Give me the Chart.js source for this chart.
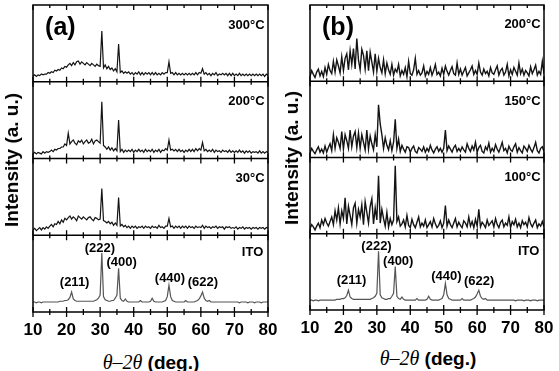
<!DOCTYPE html>
<html>
<head>
<meta charset="utf-8">
<script src="https://cdn.jsdelivr.net/npm/chart.js@4/dist/chart.umd.min.js"></script>
<style>
body{margin:0;background:#fff;}
#wrap{position:relative;width:559px;height:371px;font-family:"Liberation Sans",Arial,sans-serif;color:#000;}
canvas{position:absolute;top:0;}
.ytitle{position:absolute;font-weight:bold;font-size:19px;white-space:nowrap;transform:translate(-50%,-50%) rotate(-90deg);}
.xtitle{position:absolute;font-weight:bold;font-size:19px;white-space:nowrap;transform:translate(-50%,-50%);}
.xtitle i{font-family:"Liberation Serif",serif;font-weight:normal;font-size:20px;}
</style>
</head>
<body>
<div id="wrap">
<canvas id="chartA" width="279" height="345" style="left:0px"></canvas>
<canvas id="chartB" width="280" height="345" style="left:279px"></canvas>
<div class="ytitle" style="left:12px;top:160px">Intensity (a. u.)</div>
<div class="ytitle" style="left:292px;top:158px">Intensity (a. u.)</div>
<div class="xtitle" style="left:151px;top:362px"><i>θ–2θ</i> (deg.)</div>
<div class="xtitle" style="left:428px;top:358px"><i>θ–2θ</i> (deg.)</div>
</div>
<script>
// 2theta (deg.)
const angles = [
10,10.5,11,11.5,12,12.5,13,13.5,14,14.5,
15,15.5,16,16.5,17,17.5,18,18.5,19,19.5,
20,20.5,21,21.5,22,22.5,23,23.5,24,24.5,
25,25.5,26,26.5,27,27.5,28,28.5,29,29.5,
30,30.5,31,31.5,32,32.5,33,33.5,34,34.5,
35,35.5,36,36.5,37,37.5,38,38.5,39,39.5,
40,40.5,41,41.5,42,42.5,43,43.5,44,44.5,
45,45.5,46,46.5,47,47.5,48,48.5,49,49.5,
50,50.5,51,51.5,52,52.5,53,53.5,54,54.5,
55,55.5,56,56.5,57,57.5,58,58.5,59,59.5,
60,60.5,61,61.5,62,62.5,63,63.5,64,64.5,
65,65.5,66,66.5,67,67.5,68,68.5,69,69.5,
70,70.5,71,71.5,72,72.5,73,73.5,74,74.5,
75,75.5,76,76.5,77,77.5,78,78.5,79,79.5,
80];

const ito = [
13,13,12,13,13,12,13,13,13,13,
13,13,13,13,13,13,14,14,14,15,
15,16,19,26,17,15,14,14,14,14,
14,14,14,14,14,14,14,15,16,18,
22,77,20,16,15,14,14,15,15,18,
22,57,18,15,14,17,14,13,13,13,
13,13,13,13,15,13,13,13,13,13,
14,18,14,13,13,13,13,13,14,15,
20,35,20,15,14,13,13,13,13,13,
13,15,13,13,13,13,13,14,15,17,
21,26,18,15,14,15,13,13,13,13,
13,13,13,13,13,13,13,13,13,13,
13,13,13,12,13,13,13,13,12,13,
13,13,12,13,13,13,12,13,13,13,
13];

const a30 = [
7,9,6,8,10,7,10,8,11,9,
12,14,11,15,14,18,15,20,17,22,
20,23,25,21,24,22,19,25,23,21,
24,22,20,23,24,21,19,23,22,20,
21,61,19,18,16,18,15,17,13,16,
13,49,12,14,11,13,10,12,9,12,
10,12,9,11,10,12,9,12,10,11,
9,12,10,11,9,13,10,11,9,12,
12,22,11,12,9,12,10,12,9,12,
10,12,9,12,10,11,9,12,10,11,
10,13,9,12,10,11,9,11,10,12,
9,11,10,11,8,11,10,11,9,10,
9,11,8,10,9,11,8,10,9,10,
8,10,9,10,8,10,9,10,8,10,
9];

const a200 = [
6,8,6,8,7,6,9,7,9,8,
9,11,9,12,11,13,13,15,15,19,
17,33,19,22,24,20,18,23,21,24,
19,22,24,20,21,25,19,23,24,22,
20,74,17,15,12,15,11,14,10,13,
10,50,9,12,8,11,9,11,9,12,
8,11,9,12,9,11,8,12,9,11,
9,12,8,11,9,12,8,11,10,13,
11,24,11,12,10,12,9,12,9,11,
8,11,9,12,9,12,9,13,10,13,
11,21,10,12,9,11,9,12,8,11,
9,10,8,11,9,10,8,11,8,10,
8,10,8,11,8,10,7,10,8,10,
7,9,8,9,7,10,7,9,7,9,
8];

const a300 = [
7,9,7,9,8,10,9,10,10,12,
11,13,12,15,14,16,15,18,17,20,
19,22,24,21,25,22,26,27,23,26,
24,22,25,23,21,24,22,20,23,21,
20,66,18,22,17,20,16,18,14,17,
13,49,12,14,11,13,11,13,10,12,
9,12,10,13,9,12,9,12,10,12,
9,12,9,12,9,11,9,12,10,12,
12,26,11,12,9,12,9,11,9,11,
9,11,9,11,9,11,9,12,9,12,
11,17,10,12,9,11,8,11,9,12,
8,10,9,11,9,11,8,11,8,11,
8,10,8,11,8,10,8,10,8,10,
8,10,8,10,8,10,8,10,7,10,
8];

const b100 = [
7,12,9,5,10,14,8,18,12,20,
14,10,16,22,12,30,18,34,13,30,
20,47,13,36,24,12,34,40,14,32,
22,38,12,42,28,14,36,46,13,34,
18,76,14,32,20,10,28,9,20,12,
18,89,16,22,10,13,18,9,24,11,
8,19,12,8,15,22,9,14,10,18,
8,12,16,9,20,13,8,11,17,8,
14,37,10,18,12,8,14,20,9,15,
11,8,17,14,9,22,10,16,8,19,
10,32,9,15,12,8,18,11,14,17,
9,20,12,8,15,18,9,14,11,22,
8,16,12,19,9,14,8,17,12,15,
9,21,13,9,14,18,8,13,10,16,
9];

const b150 = [
6,12,8,5,10,14,7,11,6,15,
7,13,18,9,30,12,26,20,12,34,
11,30,22,12,36,14,28,34,13,32,
12,30,20,10,36,11,28,18,10,30,
14,69,44,30,12,26,16,10,22,9,
20,50,12,24,8,16,11,7,14,13,
7,12,15,8,6,13,11,8,14,7,
12,8,16,10,6,11,14,8,12,7,
12,36,9,15,11,7,13,16,8,12,
8,14,10,7,18,12,8,15,10,20,
7,13,16,8,6,14,10,19,7,12,
8,17,11,7,13,20,9,12,6,15,
10,8,14,18,7,13,9,6,15,12,
8,16,11,7,13,20,9,6,12,14,
8];

const b200 = [
6,14,9,5,12,16,7,13,6,18,
9,22,14,10,26,12,28,20,11,32,
14,30,36,15,40,22,43,16,56,28,
15,42,34,16,40,14,38,25,12,36,
13,30,18,11,28,10,24,15,9,22,
8,16,12,22,7,14,9,18,6,26,
10,8,15,30,9,14,8,11,20,7,
13,9,18,8,14,22,9,12,7,17,
9,20,13,8,14,19,10,8,24,9,
16,8,13,18,7,11,15,20,9,14,
9,24,12,8,16,10,13,7,18,11,
9,15,20,8,14,17,8,12,22,7,
15,9,18,13,8,24,10,16,8,14,
11,7,19,10,15,21,8,13,9,26,
10];

const hklNames = ['(211)', '(222)', '(400)', '(440)', '(622)'];

function pts(values) {
  return angles.map((a, i) => ({x: a, y: values[i]}));
}

// frame, inward ticks, strip borders and labels
const stripPlugin = {
  id: 'strips',
  afterDraw(chart, args, opts) {
    const ctx = chart.ctx;
    const area = chart.chartArea;
    const x = chart.scales.x;
    const y0 = chart.scales.y0;
    ctx.save();
    ctx.strokeStyle = '#000';
    ctx.lineWidth = 1.5;
    ctx.strokeRect(area.left, area.top, area.right - area.left, area.bottom - area.top);
    [0, 100, 200, 300, 400].forEach((v, i) => {
      const py = y0.getPixelForValue(v);
      if (i > 0 && i < 4) {
        ctx.beginPath();
        ctx.moveTo(area.left, py);
        ctx.lineTo(area.right, py);
        ctx.stroke();
      }
      ctx.lineWidth = 1.3;
      for (let t = 10; t <= 80; t += 5) {
        const px = x.getPixelForValue(t);
        const len = t % 10 === 0 ? 5 : 3;
        ctx.beginPath();
        ctx.moveTo(px, i === 4 ? py : py - len);
        ctx.lineTo(px, py + len);
        ctx.stroke();
      }
      ctx.lineWidth = 1.5;
    });

    ctx.fillStyle = '#000';
    const top = chart.scales.y3;
    ctx.font = 'bold 25px "Liberation Sans", Arial, sans-serif';
    ctx.textAlign = 'left';
    ctx.textBaseline = 'middle';
    ctx.fillText(opts.letter, x.getPixelForValue(13.6), top.getPixelForValue(70));

    ctx.font = 'bold 13px "Liberation Sans", Arial, sans-serif';
    ctx.textAlign = 'right';
    opts.temps.forEach((t, k) => {
      const ys = chart.scales['y' + (k + 1)];
      ctx.fillText(t, x.getPixelForValue(79), ys.getPixelForValue(74));
    });
    ctx.fillText('ITO', x.getPixelForValue(78.6), y0.getPixelForValue(77));

    ctx.textAlign = 'center';
    const hx = [22.4, 29.9, 36.4, 50.8, 60.6];
    const hy = [39, 83, 64, 44, 38];
    hklNames.forEach((h, k) => {
      ctx.fillText(h, x.getPixelForValue(hx[k]), y0.getPixelForValue(hy[k]));
    });
    ctx.restore();
  }
};

function makePanel(id, strips, temps, letter, pad, axisHeight, lw) {
  const datasets = strips.map((s, k) => ({
    data: pts(s),
    yAxisID: 'y' + k,
    borderColor: k === 0 ? '#555' : '#141414',
    borderWidth: k === 0 ? 1.2 : lw,
    pointRadius: 0,
    tension: 0
  }));
  const scales = {
    x: {
      type: 'linear', min: 10, max: 80,
      grid: {display: false, drawTicks: false},
      border: {display: false},
      ticks: {stepSize: 10, padding: 8, color: '#000',
        font: {family: '"Liberation Sans", Arial, sans-serif', size: 17, weight: 'bold'}},
      afterFit: s => {
        s.height = axisHeight;
        s.paddingLeft = 0;
        s.paddingRight = 0;
      }
    }
  };
  for (let k = 0; k < 4; k++) {
    scales['y' + k] = {display: false, min: -100 * k, max: 400 - 100 * k};
  }
  new Chart(document.getElementById(id), {
    type: 'line',
    data: {datasets: datasets},
    options: {
      responsive: false,
      animation: false,
      devicePixelRatio: 1,
      layout: {padding: pad},
      scales: scales,
      plugins: {
        legend: {display: false},
        tooltip: {enabled: false},
        strips: {letter: letter, temps: temps}
      }
    },
    plugins: [stripPlugin]
  });
}

makePanel('chartA', [ito, a30, a200, a300], ['30°C', '200°C', '300°C'], '(a)',
  {left: 33, right: 11, top: 5, bottom: 0}, 33, 1.2);
makePanel('chartB', [ito, b100, b150, b200], ['100°C', '150°C', '200°C'], '(b)',
  {left: 31, right: 15, top: 5, bottom: 0}, 35, 1.4);
</script>
</body>
</html>
